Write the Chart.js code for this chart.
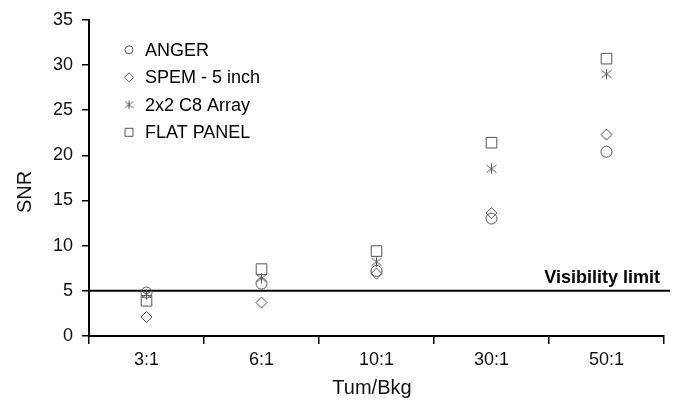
<!DOCTYPE html>
<html>
<head>
<meta charset="utf-8">
<script src="https://cdn.jsdelivr.net/npm/chart.js@4"></script>
<style>
html,body{margin:0;padding:0;background:#fff;}
#wrap{width:674px;height:403px;position:relative;}
</style>
</head>
<body>
<div id="wrap"><canvas id="c" width="674" height="403"></canvas></div>
<script>
const categories = ['3:1', '6:1', '10:1', '30:1', '50:1'];
const anger = [4.8, 5.8, 7.2, 13.0, 20.4];
const spem = [2.1, 3.7, 6.9, 13.6, 22.3];
const c8array = [4.6, 6.4, 8.2, 18.5, 29.0];
const flatPanel = [3.9, 7.4, 9.4, 21.4, 30.7];
const seriesNames = ['ANGER', 'SPEM - 5 inch', '2x2 C8 Array', 'FLAT PANEL'];
const yTicks = [0, 5, 10, 15, 20, 25, 30, 35];
const visLimit = 5;
const visLabel = 'Visibility limit';
const xTitle = 'Tum/Bkg';
const yTitle = 'SNR';

const MARK = '#555';
const FONT = '"Liberation Sans", Arial, sans-serif';

function asterisk(size) {
  const cv = document.createElement('canvas');
  cv.width = size; cv.height = size;
  const g = cv.getContext('2d');
  g.strokeStyle = MARK; g.lineWidth = 1;
  const m = size / 2, r = size / 2 - 0.5;
  g.beginPath();
  g.moveTo(m, m - r); g.lineTo(m, m + r);
  g.moveTo(m - r, m - r * 0.75); g.lineTo(m + r, m + r * 0.75);
  g.moveTo(m - r, m + r * 0.75); g.lineTo(m + r, m - r * 0.75);
  g.stroke();
  return cv;
}
const starImg = asterisk(11);
const starImgSmall = asterisk(9);

function ds(label, data, style, radius) {
  return {
    label, data, pointStyle: style, pointRadius: radius, pointHoverRadius: radius,
    showLine: false, borderColor: MARK, backgroundColor: 'rgba(0,0,0,0)',
    pointBorderColor: MARK, pointBackgroundColor: 'rgba(0,0,0,0)', pointBorderWidth: 1
  };
}

const overlay = {
  id: 'overlay',
  beforeDatasetsDraw(chart) {
    const ctx = chart.ctx, a = chart.chartArea, y = chart.scales.y.getPixelForValue(visLimit);
    ctx.save();
    ctx.strokeStyle = '#000'; ctx.lineWidth = 2;
    ctx.beginPath(); ctx.moveTo(a.left, y); ctx.lineTo(a.right + 6, y); ctx.stroke();
    ctx.fillStyle = '#000'; ctx.font = 'bold 18px ' + FONT;
    ctx.textAlign = 'right'; ctx.textBaseline = 'alphabetic';
    ctx.fillText(visLabel, a.right - 4, y - 8);
    ctx.restore();
  },
  afterDraw(chart) {
    const ctx = chart.ctx, a = chart.chartArea;
    ctx.save();
    ctx.fillStyle = '#111';
    ctx.font = '20px ' + FONT;
    ctx.textAlign = 'center'; ctx.textBaseline = 'middle';
    ctx.fillText(xTitle, 372, 388);
    ctx.translate(25, 192); ctx.rotate(-Math.PI / 2);
    ctx.fillText(yTitle, 0, 0);
    ctx.restore();
    // legend
    ctx.save();
    const lx = a.left + 40, ly0 = a.top + 30, dy = 27.5;
    ctx.font = '18px ' + FONT; ctx.fillStyle = '#000';
    ctx.textAlign = 'left'; ctx.textBaseline = 'middle';
    ctx.strokeStyle = MARK; ctx.lineWidth = 1;
    const styles = ['circle', 'rectRot', 'star', 'rect'];
    styles.forEach((s, i) => {
      const y = ly0 + i * dy;
      ctx.beginPath();
      if (s === 'circle') { ctx.arc(lx, y, 4, 0, Math.PI * 2); ctx.stroke(); }
      else if (s === 'rectRot') { ctx.moveTo(lx, y - 4.5); ctx.lineTo(lx + 4.5, y); ctx.lineTo(lx, y + 4.5); ctx.lineTo(lx - 4.5, y); ctx.closePath(); ctx.stroke(); }
      else if (s === 'rect') { ctx.rect(lx - 4, y - 4, 8, 8); ctx.stroke(); }
      else { ctx.drawImage(starImgSmall, lx - 4.5, y - 4.5); }
      ctx.fillText(seriesNames[i], lx + 16, y + 1);
    });
    ctx.restore();
  }
};

new Chart(document.getElementById('c'), {
  type: 'line',
  data: {
    labels: categories,
    datasets: [
      ds(seriesNames[0], anger, 'circle', 5.5),
      ds(seriesNames[1], spem, 'rectRot', 5.5),
      ds(seriesNames[2], c8array, starImg, 5),
      ds(seriesNames[3], flatPanel, 'rect', 7.5)
    ]
  },
  options: {
    responsive: false,
    devicePixelRatio: 1,
    animation: false,
    layout: { padding: { top: 15, right: 10, left: 0, bottom: 0 } },
    plugins: { legend: { display: false }, tooltip: { enabled: false } },
    scales: {
      x: {
        type: 'category', offset: true,
        grid: { display: true, drawOnChartArea: false, drawTicks: true, tickLength: 8, color: '#000', lineWidth: 1.5, offset: true },
        border: { display: true, color: '#000', width: 2 },
        ticks: { color: '#111', font: { size: 18, family: FONT }, padding: 5 },
        afterFit(s) { s.height = 67; }
      },
      y: {
        min: 0, max: 35,
        afterBuildTicks(s) { s.ticks = yTicks.map(v => ({ value: v })); },
        grid: { display: true, drawOnChartArea: false, drawTicks: true, tickLength: 7, color: '#000', lineWidth: 1.5 },
        border: { display: true, color: '#000', width: 2 },
        ticks: { color: '#111', font: { size: 18, family: FONT }, padding: 9 },
        afterFit(s) { s.width = 89; }
      }
    }
  },
  plugins: [overlay]
});
</script>
</body>
</html>
